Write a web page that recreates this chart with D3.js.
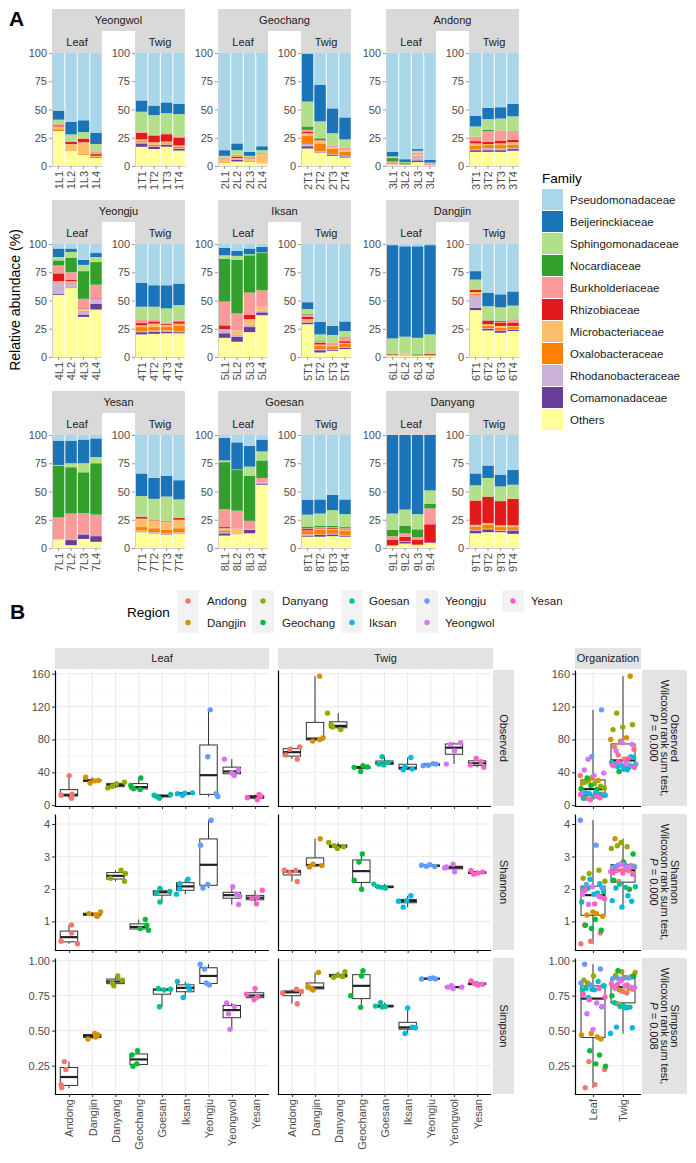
<!DOCTYPE html>
<html><head><meta charset="utf-8">
<script src="https://cdn.jsdelivr.net/npm/d3@7"></script>
<style>
body{margin:0;background:#fff}
svg{display:block}
text{font-family:"Liberation Sans",Arial,Helvetica,sans-serif}
</style>
</head><body>
<svg id="c" width="696" height="1163"></svg>
<script>
// ---------------- DATA: panel A ----------------
const families = ["Pseudomonadaceae","Beijerinckiaceae","Sphingomonadaceae","Nocardiaceae","Burkholderiaceae","Rhizobiaceae","Microbacteriaceae","Oxalobacteraceae","Rhodanobacteraceae","Comamonadaceae","Others"];
const familyColors = ["#A9D6E9","#1C74B8","#B2DF8A","#33A02C","#FB9A99","#E31A1C","#FDBF6F","#FF7F00","#CAB2D6","#6A3D9A","#FFFF99"];
// stacking order, bottom to top (columns of the abundance rows below)
const familiesBottomUp = ["Others","Comamonadaceae","Rhodanobacteraceae","Oxalobacteraceae","Microbacteriaceae","Rhizobiaceae","Burkholderiaceae","Nocardiaceae","Sphingomonadaceae","Beijerinckiaceae","Pseudomonadaceae"];
const regionsA = ["Yeongwol","Geochang","Andong","Yeongju","Iksan","Dangjin","Yesan","Goesan","Danyang"];
const tissues = ["Leaf","Twig"];
const sampleLabels = [
 "1L1","1L2","1L3","1L4","1T1","1T2","1T3","1T4",
 "2L1","2L2","2L3","2L4","2T1","2T2","2T3","2T4",
 "3L1","3L2","3L3","3L4","3T1","3T2","3T3","3T4",
 "4L1","4L2","4L3","4L4","4T1","4T2","4T3","4T4",
 "5L1","5L2","5L3","5L4","5T1","5T2","5T3","5T4",
 "6L1","6L2","6L3","6L4","6T1","6T2","6T3","6T4",
 "7L1","7L2","7L3","7L4","7T1","7T2","7T3","7T4",
 "8L1","8L2","8L3","8L4","8T1","8T2","8T3","8T4",
 "9L1","9L2","9L3","9L4","9T1","9T2","9T3","9T4"];
const yTicksA = [0,25,50,75,100];
// each row: Others, Comam., Rhodano., Oxalo., Microbac., Rhizo., Burkh., Nocard., Sphingo., Beijer., Pseudo.
const abYeongwol = [
 [31,0,0,1.5,2.5,1,1,0,4,8,51],
 [13.5,0,0,0.5,5.5,2,0.5,0,6,11,61],
 [10,0,0,1,10,3,1,0,5,10.5,59.5],
 [7,0,0,1,1,1.5,2,0,7,10,70.5],
 [17,3,1,1,1.5,6,0.5,0,18,10,42],
 [15,2,0.5,1.5,2,6,0.5,0,17.5,8.5,46.5],
 [17,1.5,0.5,1,1.5,6.5,1,0,17.5,9.5,43.5],
 [13.5,1.5,0.5,1.5,1,7,1,0,19.5,9,44.5]];
const abGeochang = [
 [3,0,0,0.5,2,0,2,0,1.5,5,86],
 [4,1.5,0.5,0.5,0.5,1,2,0,4,6,80],
 [3.5,0,0.5,0.5,1.5,0,2,0,1,3.5,87.5],
 [2.5,0,0,0.5,7.5,0,1,0,2.5,3.5,82.5],
 [15.5,2,2,7,2.5,1.5,1.5,3,22,42.5,0.5],
 [12,0.5,0.5,7,1.5,0,1.5,1.5,15,32.5,28],
 [9,1,0.5,5,1,0,1.5,0,11,22,49],
 [7.5,1,0.5,3.5,1.5,0,2,0,7.5,19.5,57]];
const abAndong = [
 [1,0,0,0,0.5,0,2.5,3,1.5,4,87.5],
 [1,0,0,0,0,0,0.5,1,1,2.5,94],
 [3.5,1.5,3.5,0.5,1,0,2,0,1.5,1.5,85],
 [0.5,0,0,0,0,0,2,0,0.5,2.5,94.5],
 [12.5,1.5,1,3,2,2,4,0,9,9.5,55.5],
 [12.5,1.5,2,2.5,1,2,9.5,1,9.5,10,48.5],
 [12.5,1.5,1.5,3,1.5,2.5,9,0,10.5,10,48],
 [13.5,1.5,1,3,2,2,8,0,13,11,45]];
const abYeongju = [
 [55,1,10,0.5,0.5,7,7,4.5,3,7.5,4],
 [61,0.5,3.5,1,1,1.5,6.5,13,5,3,4],
 [35.5,2,3.5,0,1.5,0.5,8.5,24.5,5.5,4.5,14],
 [42,5,4.5,0,0,0.5,12,20,4.5,3.5,8],
 [20,2,1,3.5,1.5,2,3.5,0,11,21,34.5],
 [20.5,2,1,3,3,2,2,0,11,19,36.5],
 [21,1.5,1,3,2,1,1,0,12.5,20.5,36.5],
 [21,1,1,4.5,2,2,1,0,13.5,19,35]];
const abIksan = [
 [17,4,3,0,0.5,3.5,21,38,3,6.5,3.5],
 [13.5,4.5,1.5,0,4,0,15,47.5,3.5,4.5,6],
 [22,4.5,2,0,5,4,19.5,33,1,5,4],
 [37,2.5,1.5,0,3.5,0,14.5,33,0.5,5,2.5],
 [29,1.5,1,1,1,2,2,0.5,4.5,6,51.5],
 [4,2,1,3,1,1.5,1,0.5,6,11,69],
 [5.5,1,0.5,2.5,1,0.5,1.5,0,7,8,72.5],
 [7,1,0.5,3,1,1.5,3.5,0.5,5,8.5,68.5]];
const abDangjin = [
 [1,0,0,0.5,0.5,0.5,0,0.5,13.5,82.5,1],
 [1,0,0,0,1,0,1,0,15,80,2],
 [1,0,0,0,0.5,0.5,0,0.5,14.5,81,2],
 [1,0,0,0,0.5,1,0,0.5,17,79,1],
 [41.5,2,11.5,1,1.5,2,0.5,0,8.5,7.5,24],
 [23.5,1.5,0.5,2,1.5,3,0.5,0.5,12,12,43],
 [21.5,1.5,0.5,2.5,1.5,3,0.5,1,12,11.5,44.5],
 [23,1,0.5,2,1,3,3,0,12,12.5,42]];
const abYesan = [
 [7.5,0,0,0,0,0,19.5,46,0.5,21.5,5],
 [2.5,4.5,1,0,0,0,22.5,41,3.5,20,5],
 [8,4,0.5,0,0,0,18.5,36,8,21,4],
 [5.5,5,0,0,0,0,19,45.5,5.5,16.5,3],
 [14,0.5,1,3,7.5,1.5,0.5,0,18,20,34],
 [13,0.5,0.5,3.5,7,0.5,0.5,0,18,18.5,38],
 [12,0.5,0.5,3,7,0.5,0.5,0,21.5,18.5,36],
 [13,0.5,0.5,3.5,7.5,1.5,0,0,16.5,17,40]];
const abGoesan = [
 [11,2,1,1.5,2,1,16,41.5,1.5,20,2.5],
 [12,0,0,0,5,0,16,36,0.5,24,6.5],
 [13,3,0.5,0,0,0,7.5,40,8,18.5,9.5],
 [56,1,1,0,0,0,4,15.5,8,10.5,4],
 [10,1,1,3,0.5,1.5,0.5,1.5,10.5,13,57.5],
 [10,1.5,0.5,4,1,0.5,1,1,11,12.5,57],
 [10.5,1.5,0.5,3.5,1,1,0.5,1,14,13.5,53],
 [10,1,0.5,3.5,1.5,0.5,0.5,1,11.5,13,57]];
const abDanyang = [
 [2,0,0,0.5,0,5,3,5.5,14.5,69.5,0],
 [4,1.5,0.5,0,0,4,3,6.5,14.5,66,0],
 [2.5,0,0,0.5,0,4.5,2,7,13.5,70,0],
 [4.5,0.5,0,0,0,16,14,4,12,49,0],
 [13,2.5,0.5,3,1.5,21.5,0,0,13.5,10.5,34],
 [14,2.5,0.5,3.5,1.5,23.5,0,0,16.5,11,27],
 [14,1,0.5,3,1.5,21.5,0,0,13,10.5,35],
 [12.5,3,0.5,2.5,1.5,23.5,0,0,12.5,13,31]];
const regionAb = [abYeongwol,abGeochang,abAndong,abYeongju,abIksan,abDangjin,abYesan,abGoesan,abDanyang];

// ---------------- DATA: panel B ----------------
const regionsB = ["Andong","Dangjin","Danyang","Geochang","Goesan","Iksan","Yeongju","Yeongwol","Yesan"];
const regionColors = ["#F8766D","#D39200","#93AA00","#00BA38","#00C19F","#00B9E3","#619CFF","#DB72FB","#FF61C3"];
const organs = ["Leaf","Twig"];
const obsLeaf = [[36,12,8.4,13.2],[34,27,30,29.5],[21,26,28,23],[24,20,19,33],[12,10.5,8.5,13],[14,12,14.5,15],[116,59,14,10.5],[56,39,36,43],[9,6.5,13,11]];
const obsTwig = [[61,68,56,71],[157,78,80,82],[112,98,95,92],[46,41,48,46.5],[50,59,49,52],[43,47,58,44],[48,48.5,50.5,50],[50,66,74,76],[49,57,53,46]];
const shaLeaf = [[0.89,0.64,0.39,0.31],[1.24,1.2,1.16,1.29],[2.33,2.58,2.48,2.24],[1.06,0.88,0.73,0.78],[1.6,1.88,2.02,1.92],[1.84,2.0,2.16,2.3],[4.12,3.35,2.14,2.03],[2.07,1.84,1.78,1.52],[1.71,1.54,1.96,1.75]];
const shaTwig = [[2.58,2.5,2.57,2.23],[2.68,2.76,3.55,2.72],[3.43,3.25,3.3,3.33],[3.08,2.83,2.27,1.99],[2.15,2.07,2.05,2.03],[1.62,1.44,1.64,1.79],[2.73,2.70,2.75,2.69],[2.68,2.76,2.53,2.65],[2.57,2.45,2.49,2.52]];
const simLeaf = [[0.279,0.223,0.115,0.092],[0.44,0.48,0.47,0.455],[0.84,0.82,0.89,0.86],[0.326,0.356,0.246,0.263],[0.80,0.67,0.795,0.79],[0.85,0.737,0.819,0.791],[0.974,0.94,0.826,0.84],[0.697,0.62,0.673,0.509],[0.76,0.80,0.72,0.74]];
const simTwig = [[0.768,0.692,0.796,0.779],[0.815,0.8,0.79,0.915],[0.88,0.895,0.885,0.92],[0.749,0.666,0.927,0.89],[0.675,0.70,0.668,0.672],[0.479,0.662,0.525,0.521],[0.868,0.872,0.876,0.869],[0.81,0.82,0.80,0.81],[0.855,0.835,0.825,0.83]];
// horizontal jitter of each point (fraction of category step)
const obsLeafJit = [[0.01,-0.34,0.11,0.13],[-0.28,-0.09,0.26,0.08],[-0.33,0.04,0.39,-0.14],[-0.34,-0.22,0.06,0.09],[-0.34,-0.23,-0.11,0.37],[-0.34,-0.12,-0.02,0.31],[0.07,-0.03,0.33,0.4],[-0.32,0,0.11,0.29],[-0.33,0.1,0.17,0.24]];
const obsTwigJit = [[-0.26,-0.09,0.23,0.34],[0.2,-0.1,0.2,0.35],[-0.46,-0.31,-0.24,0.11],[-0.31,-0.03,0.07,0.26],[-0.24,-0.1,-0.03,0.16],[-0.19,-0.11,0.14,0.2],[-0.33,-0.11,0.1,0.24],[-0.33,0.03,-0.14,0.29],[-0.29,-0.04,0.17,0.29]];
const shaLeafJit = [[0.11,0.11,-0.34,0.37],[-0.14,0.15,0.22,0.36],[-0.21,0.24,0.43,0.39],[0.28,0.35,0.42,0.06],[-0.09,-0.23,-0.09,0.34],[-0.38,-0.24,-0.24,0.12],[0.11,-0.34,-0.03,-0.24],[0.04,0.21,0.35,0.29],[-0.14,0.06,0.31,0.1]];
const shaTwigJit = [[-0.33,-0.09,0.17,0.23],[-0.24,-0.09,0.22,0.29],[-0.41,-0.03,0.23,-0.17],[0.04,-0.1,-0.31,0.01],[-0.46,-0.27,-0.1,0.04],[-0.4,-0.19,-0.04,0.14],[-0.4,-0.19,-0.04,0.17],[-0.33,-0.04,0.03,-0.4],[-0.26,-0.14,0.03,0.24]];
const simLeafJit = [[-0.2,-0.13,-0.34,-0.31],[-0.18,0.11,0.25,0.15],[-0.14,-0.07,0.1,0.29],[-0.29,-0.05,-0.25,-0.08],[-0.16,-0.11,0.37,0.09],[-0.34,-0.09,0.12,0.19],[-0.36,-0.17,0.04,-0.1],[-0.22,-0.14,0.11,-0.08],[-0.37,0,-0.04,0.1]];
const simTwigJit = [[-0.4,0.23,0.2,0.41],[-0.31,-0.16,-0.09,0.15],[-0.2,-0.03,0.19,0.29],[-0.46,-0.03,0.07,0.01],[-0.39,-0.17,-0.1,0.04],[-0.11,0,0.2,0.34],[-0.4,-0.04,0.1,0.2],[-0.26,-0.11,-0.04,0.34],[-0.26,-0.11,0.03,0.24]];
const metricNames = ["Observed","Shannon","Simpson"];
const pValues = ["0.000","0.000","0.008"];
const metricTicks = [[0,40,80,120,160],[1,2,3,4],[0.25,0.5,0.75,1.0]];
const metricMinor = [[20,60,100,140],[1.5,2.5,3.5],[0.375,0.625,0.875]];

// ---------------- DRAW ----------------
const svg = d3.select("#c");
const FONT = '"Liberation Sans",Arial,Helvetica,sans-serif';
const GREY_TXT = "#4d4d4d";

// ===== Panel A =====
svg.append("text").attr("x",9).attr("y",26).attr("font-size",21).attr("font-weight","bold").attr("fill","#000").text("A");

const colX = [52,218,386], rowY = [9,200,391];
const stripH = 22, panelH = 113, panelW = 50, twigOff = 83;
const famColor = d3.scaleOrdinal().domain(families).range(familyColors);

regionsA.forEach((reg, ri) => {
  const x0 = colX[ri % 3], y0 = rowY[Math.floor(ri / 3)];
  const g = svg.append("g");
  g.append("rect").attr("x",x0).attr("y",y0).attr("width",twigOff+panelW).attr("height",stripH).attr("fill","#d9d9d9");
  g.append("text").attr("x",x0+(twigOff+panelW)/2).attr("y",y0+stripH/2).attr("dy","0.36em")
    .attr("text-anchor","middle").attr("font-size",11).attr("fill","#1a1a1a").text(reg);
  tissues.forEach((t, ti) => {
    const px = x0 + ti*twigOff, py = y0 + 2*stripH;
    g.append("rect").attr("x",px).attr("y",y0+stripH).attr("width",panelW).attr("height",stripH).attr("fill","#d9d9d9");
    g.append("text").attr("x",px+panelW/2).attr("y",y0+stripH*1.5).attr("dy","0.36em")
      .attr("text-anchor","middle").attr("font-size",11).attr("fill","#1a1a1a").text(t);
    const labels = sampleLabels.slice(ri*8+ti*4, ri*8+ti*4+4);
    const rows = regionAb[ri].slice(ti*4, ti*4+4).map((r,i) => {
      const o = {sample: labels[i]};
      familiesBottomUp.forEach((f,k) => o[f] = r[k]);
      return o;
    });
    const x = d3.scaleBand().domain(labels).range([px+0.6, px+panelW]).paddingInner(0.08).paddingOuter(0.02);
    const y = d3.scaleLinear().domain([0,1]).range([py+panelH, py]);
    const yAx = d3.scaleLinear().domain([0,100]).range([py+panelH, py]);
    const series = d3.stack().keys(familiesBottomUp).offset(d3.stackOffsetExpand)(rows);
    g.append("g").selectAll("g").data(series).join("g").attr("fill", d => famColor(d.key))
      .selectAll("rect").data(d => d).join("rect")
      .attr("x", d => x(d.data.sample)).attr("width", x.bandwidth())
      .attr("y", d => y(d[1])).attr("height", d => Math.max(0, y(d[0]) - y(d[1])));
    // y axis
    const ya = g.append("g").attr("transform",`translate(${px},0)`)
      .call(d3.axisLeft(yAx).tickValues(yTicksA).tickSize(3).tickPadding(2).tickFormat(d3.format("d")));
    ya.select(".domain").attr("stroke","#cfcfcf");
    ya.selectAll(".tick line").attr("stroke","#9a9a9a");
    ya.selectAll("text").attr("font-size",11).attr("fill",GREY_TXT).attr("font-family",FONT);
    // bottom axis
    const xa = g.append("g").attr("transform",`translate(0,${py+panelH})`)
      .call(d3.axisBottom(x).tickSize(3).tickPadding(2).tickSizeOuter(0));
    xa.select(".domain").attr("stroke","#cfcfcf").attr("d",`M${px},0.5H${px+panelW}`);
    xa.selectAll(".tick line").attr("stroke","#9a9a9a");
    xa.selectAll("text").attr("font-size",11).attr("fill",GREY_TXT).attr("font-family",FONT)
      .attr("transform","rotate(-90)").attr("text-anchor","end").attr("x",-5).attr("y",0).attr("dy","0.36em");
  });
});

// y axis title
svg.append("text").attr("transform","translate(20,300) rotate(-90)").attr("text-anchor","middle")
  .attr("font-size",14).attr("fill","#000").text("Relative abundace (%)");

// Family legend
const lg = svg.append("g");
lg.append("text").attr("x",542).attr("y",183).attr("font-size",13.5).attr("fill","#000").text("Family");
families.forEach((f,i) => {
  lg.append("rect").attr("x",542).attr("y",189+22*i).attr("width",21).attr("height",21).attr("fill",familyColors[i]);
  lg.append("text").attr("x",570).attr("y",199.5+22*i).attr("dy","0.36em").attr("font-size",11.5).attr("fill","#1a1a1a").text(f);
});

// ===== Panel B =====
svg.append("text").attr("x",10).attr("y",619).attr("font-size",21).attr("font-weight","bold").attr("fill","#000").text("B");

// Region legend
svg.append("text").attr("x",127).attr("y",612).attr("dy","0.36em").attr("font-size",13.5).attr("fill","#000").text("Region");
const keyDotX = [188,263,352,427,513], keyTxtX = [207,282,369,445,531];
regionsB.forEach((r,i) => {
  const c = Math.floor(i/2), rr = i % 2;
  const cy = 601 + rr*21.5;
  svg.append("rect").attr("x",keyDotX[c]-11).attr("y",cy-10.75).attr("width",22).attr("height",21.5).attr("fill","#f2f2f2");
  svg.append("circle").attr("cx",keyDotX[c]).attr("cy",cy).attr("r",2.7).attr("fill",regionColors[i]);
  svg.append("text").attr("x",keyTxtX[c]).attr("y",cy).attr("dy","0.36em").attr("font-size",11.5).attr("fill","#1a1a1a").text(r);
});

const rowTop = [670,814,958], rowH = 136;
const leafX = [55,269], twigX = [278,491], orgX = [575,641];
const values = [[obsLeaf,obsTwig],[shaLeaf,shaTwig],[simLeaf,simTwig]];
const jits = [[obsLeafJit,obsTwigJit],[shaLeafJit,shaTwigJit],[simLeafJit,simTwigJit]];
const regColor = d3.scaleOrdinal().domain(regionsB).range(regionColors);

function boxStats(v) {
  const s = v.slice().sort(d3.ascending);
  return {q1: d3.quantileSorted(s,0.25), med: d3.quantileSorted(s,0.5), q3: d3.quantileSorted(s,0.75), lo: s[0], hi: s[s.length-1]};
}
function drawBox(g, cx, w, st, y) {
  g.append("line").attr("x1",cx).attr("x2",cx).attr("y1",y(st.hi)).attr("y2",y(st.q3)).attr("stroke","#333").attr("stroke-width",1);
  g.append("line").attr("x1",cx).attr("x2",cx).attr("y1",y(st.q1)).attr("y2",y(st.lo)).attr("stroke","#333").attr("stroke-width",1);
  g.append("rect").attr("x",cx-w/2).attr("y",y(st.q3)).attr("width",w).attr("height",Math.max(0.5,y(st.q1)-y(st.q3)))
    .attr("fill","#fff").attr("stroke","#333").attr("stroke-width",1);
  g.append("line").attr("x1",cx-w/2).attr("x2",cx+w/2).attr("y1",y(st.med)).attr("y2",y(st.med)).attr("stroke","#222").attr("stroke-width",2.2);
}
function grid(g, xs, xr, y, ticks, minor, top, bot) {
  minor.forEach(t => g.append("line").attr("x1",xr[0]).attr("x2",xr[1]).attr("y1",y(t)).attr("y2",y(t)).attr("stroke","#f3f3f3").attr("stroke-width",0.6));
  ticks.forEach(t => g.append("line").attr("x1",xr[0]).attr("x2",xr[1]).attr("y1",y(t)).attr("y2",y(t)).attr("stroke","#ebebeb").attr("stroke-width",1));
  xs.forEach(xv => g.append("line").attr("x1",xv).attr("x2",xv).attr("y1",top).attr("y2",bot).attr("stroke","#ebebeb").attr("stroke-width",1));
}
function stripRight(x, top, w, lines, last) {
  svg.append("rect").attr("x",x).attr("y",top).attr("width",w).attr("height",rowH).attr("fill","#e3e3e3");
  const t = svg.append("text").attr("transform",`translate(${x+w/2},${top+rowH/2}) rotate(90)`).attr("text-anchor","middle")
    .attr("font-size",11).attr("fill","#1a1a1a");
  const n = lines.length;
  lines.forEach((ln,i) => {
    const ts = t.append("tspan").attr("x",0).attr("y",0).attr("dy",((i-(n-1)/2)*10.5+3.8)+"px");
    if (ln === "P") {
      ts.append("tspan").attr("font-style","italic").text("P");
      ts.append("tspan").text(" = " + last);
    } else ts.text(ln);
  });
}

// top strips
[[leafX,"Leaf"],[twigX,"Twig"]].forEach(([xr,lab]) => {
  const x1 = xr[0], x2 = lab === "Twig" ? 493 : xr[1];
  svg.append("rect").attr("x",x1).attr("y",648).attr("width",x2-x1).attr("height",21).attr("fill","#e3e3e3");
  svg.append("text").attr("x",(x1+x2)/2).attr("y",658.5).attr("dy","0.36em").attr("text-anchor","middle")
    .attr("font-size",11).attr("fill","#1a1a1a").text(lab);
});
svg.append("rect").attr("x",orgX[0]).attr("y",648).attr("width",orgX[1]-orgX[0]).attr("height",21).attr("fill","#e3e3e3");
svg.append("text").attr("x",(orgX[0]+orgX[1])/2).attr("y",658.5).attr("dy","0.36em").attr("text-anchor","middle")
  .attr("font-size",11).attr("fill","#1a1a1a").text("Organization");

metricNames.forEach((m, mi) => {
  const top = rowTop[mi], bot = top + rowH;
  const all = values[mi][0].flat().concat(values[mi][1].flat());
  const [lo, hi] = d3.extent(all), pad = (hi - lo) * 0.05;
  const y = d3.scaleLinear().domain([lo - pad, hi + pad]).range([bot, top]);
  const fmt = mi === 2 ? d3.format(".2f") : d3.format("d");

  [leafX, twigX].forEach((xr, oi) => {
    const g = svg.append("g");
    const x = d3.scalePoint().domain(regionsB).range(xr).padding(0.6);
    const step = x.step();
    grid(g, regionsB.map(r => x(r)), xr, y, metricTicks[mi], metricMinor[mi], top, bot);
    regionsB.forEach((r, ri) => drawBox(g, x(r), step*0.75, boxStats(values[mi][oi][ri]), y));
    regionsB.forEach((r, ri) => {
      values[mi][oi][ri].forEach((v, k) => {
        g.append("circle").attr("cx", x(r) + jits[mi][oi][ri][k]*step).attr("cy", y(v)).attr("r",2.7).attr("fill", regColor(r));
      });
    });
    const ya = g.append("g").attr("transform",`translate(${xr[0]},0)`)
      .call(d3.axisLeft(y).tickValues(metricTicks[mi]).tickSize(oi===0?3:0).tickPadding(2).tickFormat(oi===0?fmt:() => "").tickSizeOuter(0));
    ya.select(".domain").attr("stroke","#000").attr("stroke-width",1.2);
    ya.selectAll(".tick line").attr("stroke","#333");
    ya.selectAll("text").attr("font-size",11).attr("fill",GREY_TXT).attr("font-family",FONT);
    const xa = g.append("g").attr("transform",`translate(0,${bot})`)
      .call(d3.axisBottom(x).tickSize(3).tickSizeOuter(0).tickFormat(mi===2 ? (d => d) : () => ""));
    xa.select(".domain").attr("stroke","#000").attr("stroke-width",1.2).attr("d",`M${xr[0]},0.5H${xr[1]}`);
    xa.selectAll(".tick line").attr("stroke","#333");
    xa.selectAll("text").attr("font-size",11).attr("fill",GREY_TXT).attr("font-family",FONT)
      .attr("transform","rotate(-90)").attr("text-anchor","end").attr("x",-5).attr("y",0).attr("dy","0.36em");
  });
  stripRight(493, top, 21, [m]);

  // Organization panel
  const g = svg.append("g");
  const x = d3.scalePoint().domain(organs).range(orgX).padding(0.6);
  const step = x.step();
  grid(g, organs.map(o => x(o)), orgX, y, metricTicks[mi], metricMinor[mi], top, bot);
  organs.forEach((o, oi) => drawBox(g, x(o), step*0.8, boxStats(values[mi][oi].flat()), y));
  organs.forEach((o, oi) => {
    let idx = 0;
    regionsB.forEach((r, ri) => values[mi][oi][ri].forEach(v => {
      const off = (((idx * 0.6180339887 + oi*0.31 + mi*0.17) % 1) - 0.5) * 0.85;
      idx++;
      g.append("circle").attr("cx", x(o) + off*step).attr("cy", y(v)).attr("r",2.7).attr("fill", regColor(r));
    }));
  });
  const ya = g.append("g").attr("transform",`translate(${orgX[0]},0)`)
    .call(d3.axisLeft(y).tickValues(metricTicks[mi]).tickSize(3).tickPadding(2).tickFormat(fmt).tickSizeOuter(0));
  ya.select(".domain").attr("stroke","#000").attr("stroke-width",1.2);
  ya.selectAll(".tick line").attr("stroke","#333");
  ya.selectAll("text").attr("font-size",11).attr("fill",GREY_TXT).attr("font-family",FONT);
  const xa = g.append("g").attr("transform",`translate(0,${bot})`)
    .call(d3.axisBottom(x).tickSize(3).tickSizeOuter(0).tickFormat(mi===2 ? (d => d) : () => ""));
  xa.select(".domain").attr("stroke","#000").attr("stroke-width",1.2).attr("d",`M${orgX[0]},0.5H${orgX[1]}`);
  xa.selectAll(".tick line").attr("stroke","#333");
  xa.selectAll("text").attr("font-size",11).attr("fill",GREY_TXT).attr("font-family",FONT)
    .attr("transform","rotate(-90)").attr("text-anchor","end").attr("x",-5).attr("y",0).attr("dy","0.36em");
  stripRight(642, top, 45, [m, "Wilcoxon rank sum test,", "P"], pValues[mi]);
});
</script>
</body></html>
